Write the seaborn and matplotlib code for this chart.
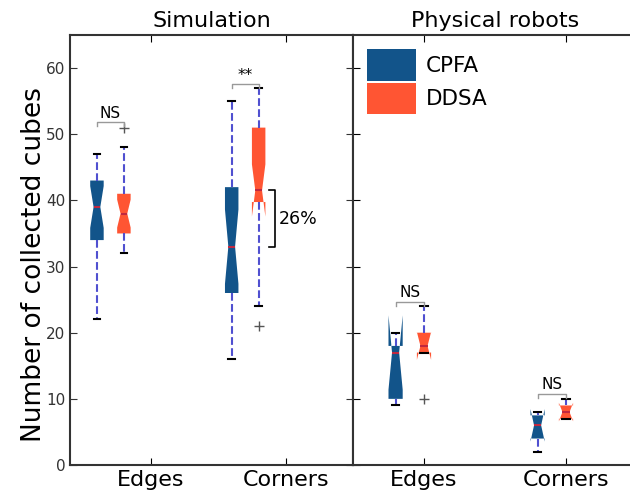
import numpy as np
import pandas as pd
import seaborn as sns
import matplotlib.pyplot as plt
from matplotlib.patches import Patch

algorithms = ['CPFA', 'DDSA']
colors = ['#12548a', '#ff5533']
places = ['Edges', 'Corners']

# Simulation runs (20 per box)
sim_cpfa_edges = [22, 28, 31, 33, 34, 34, 36, 37, 38, 39, 39, 40, 41, 42, 43, 43, 44, 45, 46, 47]
sim_ddsa_edges = [32, 33, 34, 35, 35, 35, 36, 37, 37, 38, 38, 39, 39, 40, 41, 41, 42, 44, 48, 51]
sim_cpfa_corners = [16, 19, 22, 24, 26, 26, 28, 30, 31, 33, 33, 35, 37, 40, 42, 42, 45, 48, 52, 55]
sim_ddsa_corners = [21, 24, 30, 36, 39, 40, 40, 41, 41, 41, 42, 44, 46, 49, 51, 51, 52, 53, 55, 57]

# Physical robot trials (5 per box)
robot_cpfa_edges = [9, 10, 17, 18, 20]
robot_ddsa_edges = [10, 17, 18, 20, 24]
robot_cpfa_corners = [2, 4, 6, 7.5, 8]
robot_ddsa_corners = [7, 7, 8, 9, 10]

# box positions on each panel's x axis
sim_pos = {'CPFA': [1, 6], 'DDSA': [2, 7]}
robot_pos = {'CPFA': [2, 7], 'DDSA': [3, 8]}
tick_pos = [3, 8]

sim_data = {('CPFA', 'Edges'): sim_cpfa_edges, ('DDSA', 'Edges'): sim_ddsa_edges,
            ('CPFA', 'Corners'): sim_cpfa_corners, ('DDSA', 'Corners'): sim_ddsa_corners}
robot_data = {('CPFA', 'Edges'): robot_cpfa_edges, ('DDSA', 'Edges'): robot_ddsa_edges,
              ('CPFA', 'Corners'): robot_cpfa_corners, ('DDSA', 'Corners'): robot_ddsa_corners}


def make_frame(series, pos):
    frames = []
    for algo in algorithms:
        for place, p in zip(places, pos[algo]):
            frames.append(pd.DataFrame({'pos': p, 'algo': algo, 'cubes': series[(algo, place)]}))
    return pd.concat(frames, ignore_index=True)


df_sim = make_frame(sim_data, sim_pos)
df_robot = make_frame(robot_data, robot_pos)

plt.rcParams.update({
    'xtick.direction': 'in', 'ytick.direction': 'in',
    'xtick.top': True, 'ytick.right': True,
    'xtick.major.size': 5, 'ytick.major.size': 5,
    'axes.edgecolor': '#333333', 'axes.linewidth': 1.5,
})

fig = plt.figure(figsize=(6.3, 4.95), dpi=100)
ax1 = fig.add_axes([0.1111, 0.0606, 0.4492, 0.8687])
ax2 = fig.add_axes([0.5603, 0.0606, 0.4508, 0.8687])


def draw_boxes(df, ax):
    sns.boxplot(data=df, x='pos', y='cubes', hue='algo', hue_order=algorithms,
                palette=colors, saturation=1, native_scale=True, dodge=False,
                width=0.5, notch=True, legend=False, ax=ax,
                boxprops=dict(edgecolor='none', linewidth=0),
                medianprops=dict(color='#c02840', linewidth=1.5),
                whiskerprops=dict(color='#5050d0', linestyle='--', linewidth=1.5),
                capprops=dict(color='black', linewidth=1.5),
                flierprops=dict(marker='+', markeredgecolor='#555555',
                                markeredgewidth=1, markersize=7))


def bracket(ax, x1, x2, y, label, size=11):
    ax.plot([x1, x1, x2, x2], [y - 0.6, y, y, y - 0.6], color='#999999', lw=1)
    ax.text((x1 + x2) / 2, y + 0.2, label, ha='center', va='bottom', fontsize=size)


draw_boxes(df_sim, ax1)
draw_boxes(df_robot, ax2)

for ax in (ax1, ax2):
    ax.set_ylim(0, 65)
    ax.set_xticks(tick_pos)
    ax.set_xticklabels(places, fontsize=16)
    ax.set_xlabel('')
    ax.set_ylabel('')
    ax.set_yticks(range(0, 70, 10))

ax1.set_xlim(0, 10.5)
ax2.set_xlim(0.5, 10.5)
ax1.tick_params(axis='y', labelsize=11, colors='#333333', labelcolor='#333333')
ax2.tick_params(axis='y', labelleft=False)

ax1.set_title('Simulation', fontsize=16)
ax2.set_title('Physical robots', fontsize=16)
ax1.set_ylabel('Number of collected cubes', fontsize=19)
ax1.yaxis.set_label_coords(-0.082, 0.465)

# significance markers
bracket(ax1, 1, 2, 51.8, 'NS')
bracket(ax1, 6, 7, 57.6, '**')
bracket(ax2, 2, 3, 24.7, 'NS')
bracket(ax2, 7, 8, 10.8, 'NS')

# improvement of DDSA over CPFA in corners
ax1.plot([7.4, 7.6, 7.6, 7.4], [41.5, 41.5, 33, 33], color='black', lw=1.2)
ax1.text(7.75, 37.2, '26%', ha='left', va='center', fontsize=12.5)

handles = [Patch(facecolor=c, edgecolor='none', label=a) for a, c in zip(algorithms, colors)]
ax2.legend(handles=handles, loc='upper left', frameon=False, fontsize=15.5,
           handlelength=2.3, handleheight=1.9, handletextpad=0.42,
           labelspacing=0.08, borderaxespad=0.25)

fig.savefig('out.png', dpi=100)
